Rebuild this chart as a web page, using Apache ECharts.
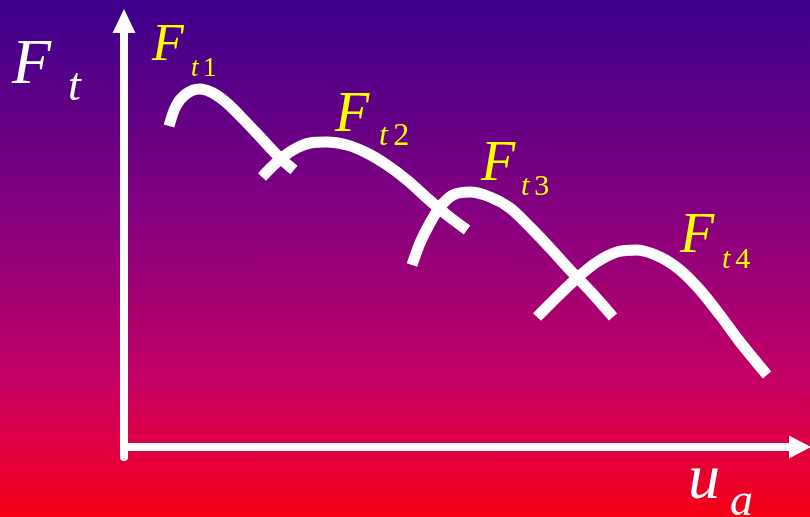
<!DOCTYPE html>
<html>
<head>
<meta charset="utf-8">
<script src="https://cdn.jsdelivr.net/npm/echarts@6/dist/echarts.min.js"></script>
<style>
  html, body { margin: 0; padding: 0; }
  #chart {
    width: 810px; height: 517px;
    background: linear-gradient(to bottom, #3a008c 0%, #8a007e 44%, #c30064 73%, #dc0046 85%, #f50014 100%);
  }
</style>
</head>
<body>
<div id="chart"></div>
<script>
  // traction force curves for gears 1..4, [speed, force]
  const ft1 = [[45, 321], [52, 341], [62, 353], [75, 358], [89, 354], [104, 343], [121, 326], [138, 308], [155, 290], [170, 277]]
  const ft2 = [[138, 270], [153, 285], [169, 297], [186, 304], [203, 305], [223, 302], [243, 294], [263, 282], [283, 267], [303, 249], [323, 232], [343, 217]]
  const ft3 = [[288, 182], [296, 204], [306, 224], [316, 240], [329, 252], [346, 255], [366, 250], [386, 239], [406, 220], [426, 199], [446, 177], [468, 154], [489, 130]]
  const ft4 = [[413, 130], [433, 150], [453, 169], [473, 185], [493, 195], [513, 197], [536, 190], [556, 177], [576, 157], [596, 132], [616, 105], [643, 72]]
  const gearNames = ['1', '2', '3', '4']

  const serif = '"Liberation Serif", "DejaVu Serif", serif'

  function txt(x, y, text, size, color, italic) {
    return {
      type: 'text',
      x: x,
      y: y,
      silent: true,
      style: {
        text: text,
        fill: color,
        font: (italic ? 'italic ' : '') + size + 'px ' + serif,
        verticalAlign: 'middle'
      }
    }
  }

  // label: F + subscript t + gear number
  function gearLabel(x, y, size, sx, sy, subSize, name) {
    return [
      txt(x, y, 'F', size, '#ffff00', true),
      {
        type: 'text', x: sx, y: sy, silent: true,
        style: {
          text: '{t|t} {n|' + name + '}',
          verticalAlign: 'middle',
          fontSize: subSize * 0.6,
          rich: {
            t: { fill: '#ffff00', fontFamily: serif, fontStyle: 'italic', fontSize: subSize },
            n: { fill: '#ffff00', fontFamily: serif, fontSize: subSize }
          }
        }
      }
    ]
  }

  const chart = echarts.init(document.getElementById('chart'))

  const curveSeries = [ft1, ft2, ft3, ft4].map((d, i) => ({
    name: 'Ft' + (i + 1),
    type: 'line',
    data: d,
    smooth: 0.3,
    symbol: 'none',
    lineStyle: { color: '#ffffff', width: 11, cap: 'butt' }
  }))

  chart.setOption({
    animation: false,
    grid: { left: 124, right: 10, top: 21, bottom: 60 },
    xAxis: {
      type: 'value', min: 0, max: 676,
      splitLine: { show: false }, axisTick: { show: false }, axisLabel: { show: false },
      axisLine: {
        onZero: true,
        symbol: ['none', 'triangle'], symbolSize: [23, 22],
        lineStyle: { color: '#ffffff', width: 8 }
      }
    },
    yAxis: {
      type: 'value', min: -10, max: 426,
      splitLine: { show: false }, axisTick: { show: false }, axisLabel: { show: false },
      axisLine: {
        symbol: ['none', 'triangle'], symbolSize: [23, 24],
        lineStyle: { color: '#ffffff', width: 8 }
      }
    },
    series: curveSeries,
    graphic: [
      txt(12, 66, 'F', 64, '#ffffff', true),
      txt(68, 88, 't', 46, '#ffffff', true),
      txt(688, 481, 'u', 64, '#ffffff', true),
      txt(730, 503, 'a', 46, '#ffffff', true)
    ].concat(
      gearLabel(152, 46, 52, 191, 69, 27, gearNames[0]),
      gearLabel(335, 116, 56, 379, 137, 32, gearNames[1]),
      gearLabel(481, 165, 56, 521, 187, 30, gearNames[2]),
      gearLabel(680, 237, 56, 722, 260, 30, gearNames[3])
    )
  })
</script>
</body>
</html>
